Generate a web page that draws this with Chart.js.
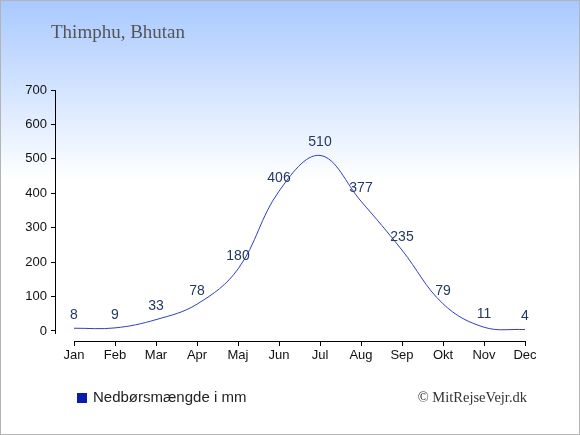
<!DOCTYPE html>
<html><head><meta charset="utf-8">
<script src="https://cdn.jsdelivr.net/npm/chart.js@4"></script>
<style>html,body{margin:0;padding:0;background:#fff}#wrap{position:relative;width:580px;height:435px}canvas{display:block}</style>
</head><body><div id="wrap"><canvas id="c" width="580" height="435"></canvas></div>
<script>
const months = ["Jan","Feb","Mar","Apr","Maj","Jun","Jul","Aug","Sep","Okt","Nov","Dec"];
const precipitation = [8, 9, 33, 78, 180, 406, 510, 377, 235, 79, 11, 4];
const yTicks = [0, 100, 200, 300, 400, 500, 600, 700];
const seriesLabel = "Nedbørsmængde i mm";
const titleText = "Thimphu, Bhutan";
const creditText = "© MitRejseVejr.dk";

const decor = {
  id: 'decor',
  beforeDraw(chart) {
    const ctx = chart.ctx;
    const g = ctx.createLinearGradient(0, 0, 0, 180);
    g.addColorStop(0, '#a8c9ff');
    g.addColorStop(1, '#ffffff');
    ctx.save();
    ctx.fillStyle = '#ffffff';
    ctx.fillRect(0, 0, 580, 435);
    ctx.fillStyle = g;
    ctx.fillRect(0, 0, 580, 180);
    ctx.strokeStyle = '#b4b4b4';
    ctx.lineWidth = 1;
    ctx.strokeRect(0.5, 0.5, 579, 434);
    ctx.restore();
  },
  afterDraw(chart) {
    const ctx = chart.ctx;
    const xs = chart.scales.x, ys = chart.scales.y;
    ctx.save();
    ctx.strokeStyle = '#000';
    ctx.lineWidth = 1;
    const ax = Math.round(chart.chartArea.left) + 0.5;
    ctx.beginPath();
    ctx.moveTo(ax, ys.getPixelForValue(yTicks[yTicks.length-1]));
    ctx.lineTo(ax, ys.getPixelForValue(0) + 3);
    ctx.stroke();
    const by = Math.round(chart.chartArea.bottom) + 0.5;
    ctx.beginPath();
    ctx.moveTo(xs.getPixelForValue(0), by);
    ctx.lineTo(xs.getPixelForValue(months.length - 1), by);
    ctx.stroke();
    // title
    ctx.fillStyle = '#555555';
    ctx.font = '19px "Liberation Serif", "DejaVu Serif", serif';
    ctx.textBaseline = 'middle';
    ctx.textAlign = 'left';
    ctx.fillText(titleText, 51, 33);
    // data labels
    const meta = chart.getDatasetMeta(0);
    ctx.font = '14px "Liberation Sans", Arial, sans-serif';
    ctx.fillStyle = '#233a60';
    ctx.textAlign = 'center';
    meta.data.forEach((pt, i) => {
      ctx.fillText(String(precipitation[i]), pt.x, pt.y - 13);
    });
    // legend
    ctx.fillStyle = '#0a1cb0';
    ctx.fillRect(77, 393, 10, 10);
    ctx.fillStyle = '#222';
    ctx.font = '15px "Liberation Sans", Arial, sans-serif';
    ctx.textAlign = 'left';
    ctx.fillText(chart.data.datasets[0].label, 93, 398);
    // credit
    ctx.font = '14.5px "Liberation Serif", "DejaVu Serif", serif';
    ctx.textAlign = 'right';
    ctx.fillStyle = '#333';
    ctx.fillText(creditText, 527, 398);
    ctx.restore();
  }
};

new Chart(document.getElementById('c'), {
  type: 'line',
  data: {
    datasets: [{
      label: seriesLabel,
      data: precipitation.map((v, i) => ({x: i, y: v})),
      borderColor: '#3040c0',
      borderWidth: 1,
      pointRadius: 0,
      tension: 0.38,
      fill: false
    }]
  },
  options: {
    responsive: false,
    animation: false,
    devicePixelRatio: 1,
    layout: {padding: {top: 90, right: 55, left: 0, bottom: 0}},
    plugins: {legend: {display: false}, tooltip: {enabled: false}},
    scales: {
      x: {
        type: 'linear',
        min: -19/41,
        max: 11,
        afterBuildTicks(s) { s.ticks = months.map((m, i) => ({value: i})); },
        afterFit(s) { s.height = 94; },
        ticks: {
          autoSkip: false, maxRotation: 0, padding: 2,
          callback: (v) => months[v],
          color: '#111',
          font: {family: '"Liberation Sans", Arial, sans-serif', size: 13}
        },
        grid: {drawOnChartArea: false, drawTicks: true, tickLength: 5, color: '#000'},
        border: {display: false}
      },
      y: {
        min: -29.05,
        max: 700,
        afterBuildTicks(s) { s.ticks = yTicks.map(v => ({value: v})); },
        afterFit(s) { s.width = 55; },
        ticks: {
          padding: 4, color: '#111',
          font: {family: '"Liberation Sans", Arial, sans-serif', size: 13}
        },
        grid: {drawOnChartArea: false, drawTicks: true, tickLength: 4, color: '#000'},
        border: {display: false}
      }
    }
  },
  plugins: [decor]
});
</script></body></html>
